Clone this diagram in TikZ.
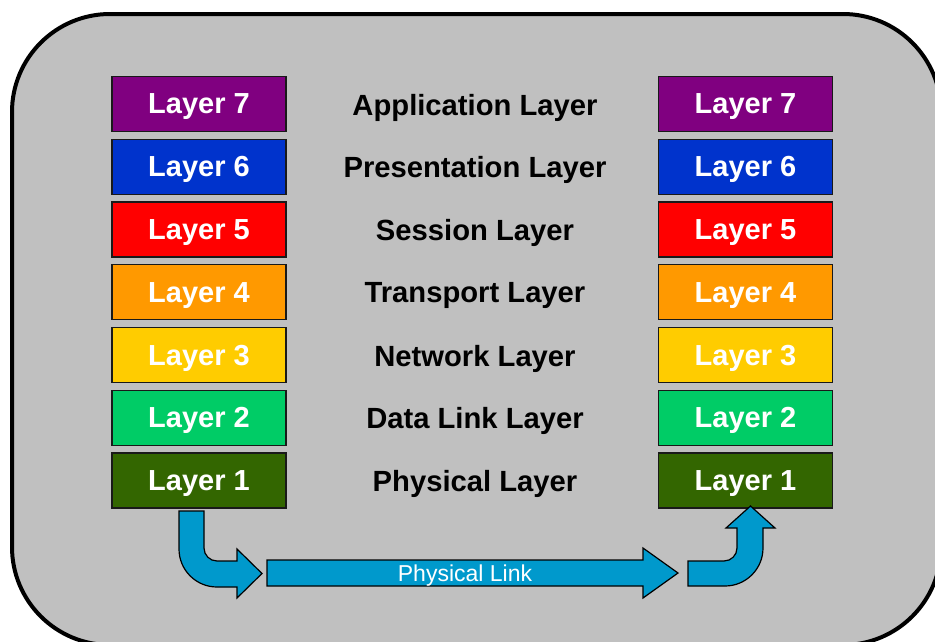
\documentclass[tikz,border=0pt]{standalone}
\usepackage{fontspec}
\setmainfont{Liberation Sans}
\usetikzlibrary{positioning}

\definecolor{panelgray}{HTML}{C0C0C0}
\definecolor{layseven}{HTML}{800080}
\definecolor{laysix}{HTML}{0033CC}
\definecolor{layfive}{HTML}{FF0000}
\definecolor{layfour}{HTML}{FF9900}
\definecolor{laythree}{HTML}{FFCC00}
\definecolor{laytwo}{HTML}{00CC66}
\definecolor{layone}{HTML}{336600}
\definecolor{linkblue}{HTML}{0099CC}

\begin{document}
\begin{tikzpicture}[
  x=1pt, y=-1pt,
  layer/.style={draw=black!90, line width=1.4pt, minimum width=174pt, minimum height=55pt,
    inner sep=0pt, text=white, text depth=0pt, font=\fontsize{29}{32}\selectfont\bfseries},
  laylabel/.style={inner sep=0pt, text depth=0pt, font=\fontsize{29.2}{32}\selectfont\bfseries},
  pipe/.style={fill=linkblue, draw=black, line width=1.2pt, line join=miter}
]
\useasboundingbox (0,0) rectangle (935,641);

% Frame round both stacks.
\draw[line width=4pt, fill=panelgray, rounded corners=98pt] (12,14) rectangle (941,645);

% The seven layers, both ends and the names between.
\foreach \n/\col/\txt [count=\i from 0] in {
    7/layseven/Application Layer,
    6/laysix/Presentation Layer,
    5/layfive/Session Layer,
    4/layfour/Transport Layer,
    3/laythree/Network Layer,
    2/laytwo/Data Link Layer,
    1/layone/Physical Layer}{
  \node[layer, fill=\col] (L\n) at (199,104+62.75*\i) {Layer \n};
  \node[layer, fill=\col] (R\n) at (745.5,104+62.75*\i) {Layer \n};
  \node[laylabel] (M\n) at (475,104.5+62.75*\i) {\txt};
}

% Down out of the left stack.
\draw[pipe] (179,511) -- (204,511) -- (204,548)
  .. controls (204,555.2) and (209.8,561) .. (217,561)
  -- (237,561) -- (237,549) -- (262,573.5) -- (237,598) -- (237,587) -- (217,587)
  .. controls (196,587) and (179,570) .. (179,549) -- cycle;

% Physical link.
\draw[pipe] (267,560) -- (643,560) -- (643,548) -- (678,573) -- (643,598)
  -- (643,586) -- (267,586) -- cycle;
\node[text=white, inner sep=0pt, text depth=0pt, font=\fontsize{23}{26}\selectfont]
  (link) at (465,573) {Physical Link};

% Up into the right stack.
\draw[pipe] (688,561) -- (724,561)
  .. controls (731.2,561) and (737,555.2) .. (737,548)
  -- (737,528) -- (726,528) -- (750.5,506) -- (775,528) -- (763,528) -- (763,548)
  .. controls (763,569) and (746,586) .. (725,586) -- (688,586) -- cycle;

\end{tikzpicture}
\end{document}
